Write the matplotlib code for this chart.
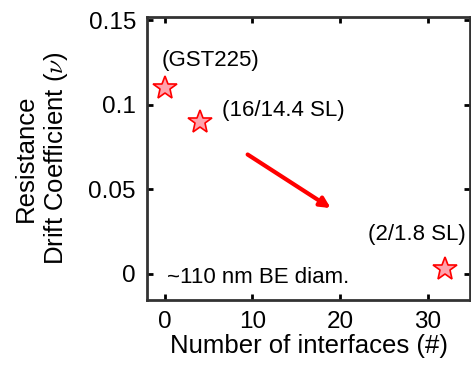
import matplotlib.pyplot as plt

plt.rcParams['font.family'] = ['Liberation Sans', 'DejaVu Sans']
plt.rcParams['mathtext.fontset'] = 'cm'

# data
interfaces = [0, 4, 32]
drift_coef = [0.11, 0.09, 0.003]
labels = ['(GST225)', '(16/14.4 SL)', '(2/1.8 SL)']

fig = plt.figure(figsize=(4.71, 3.66), dpi=100)
ax = fig.add_axes([147 / 471, 66 / 366, 323 / 471, 283 / 366])

ax.plot(interfaces, drift_coef, linestyle='none', marker='*', markersize=18,
        markerfacecolor=(1, 0.55, 0.6, 0.8), markeredgecolor='red', markeredgewidth=1.2)

ax.text(-0.35, 0.126, labels[0], fontsize=16, va='center')
ax.text(6.6, 0.0968, labels[1], fontsize=16, va='center')
ax.text(34.3, 0.023, labels[2], fontsize=16, ha='right', va='center')
ax.text(0.3, -0.002, '~110 nm BE diam.', fontsize=16, va='center')

ax.annotate('', xy=(19.2, 0.038), xytext=(9.2, 0.0715),
            arrowprops=dict(arrowstyle='-|>,head_length=0.6,head_width=0.3',
                            color='red', lw=3))

ax.set_xlim(-2, 34.8)
ax.set_ylim(-0.0155, 0.152)
ax.set_xticks([0, 10, 20, 30])
ax.set_yticks([0, 0.05, 0.1, 0.15])
ax.set_yticklabels(['0', '0.05', '0.1', '0.15'])
ax.tick_params(direction='in', top=True, right=True, labelsize=17.5, width=2, length=4)
ax.tick_params(axis='y', pad=8)
ax.tick_params(axis='x', pad=8)
for s in ax.spines.values():
    s.set_linewidth(2)
    s.set_color('#333333')

ax.set_xlabel('Number of interfaces (#)', fontsize=18.5, labelpad=1)
ax.set_ylabel('Resistance\nDrift Coefficient ($\\nu$)', fontsize=18.5, labelpad=13,
              linespacing=1.2)

fig.savefig('out.png', dpi=100)
